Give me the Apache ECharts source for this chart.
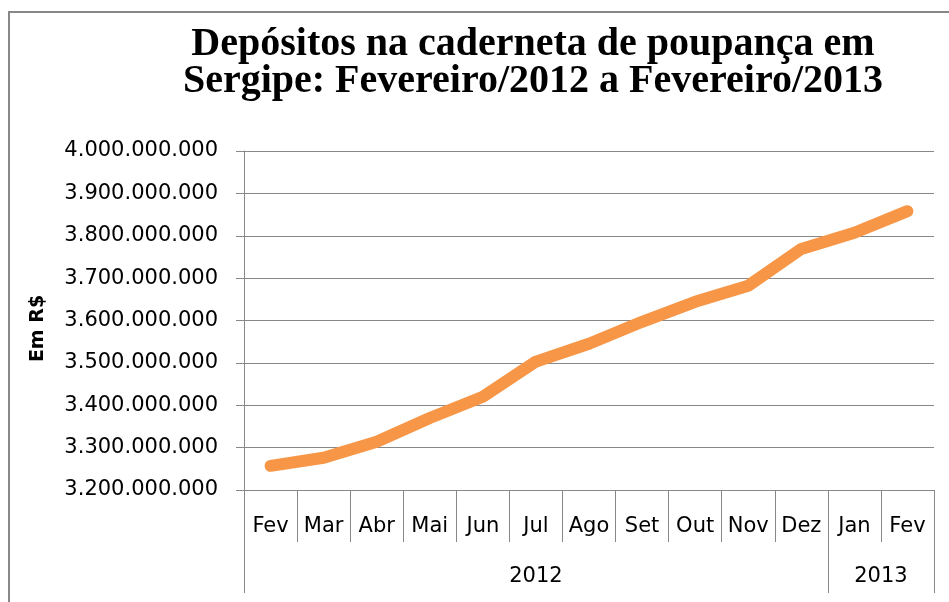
<!DOCTYPE html>
<html lang="pt">
<head>
	<meta charset="UTF-8">
	<title>Depósitos na caderneta de poupança em Sergipe</title>
	<script src="https://cdn.jsdelivr.net/npm/echarts@6/dist/echarts.min.js"></script>
	<style>
		html,body{margin:0;padding:0;background:#fff;}
	</style>
</head>
<body>
	<div id="app" style="width:949px;height:602px"></div>

	<script>
		// dados
		var meses=["Fev","Mar","Abr","Mai","Jun","Jul","Ago","Set","Out","Nov","Dez","Jan","Fev"];
		var depositos=[3257e6,3276e6,3314e6,3370e6,3420e6,3503e6,3545e6,3597e6,3644e6,3682e6,3769e6,3807e6,3858e6];
		var anos=["2012","2013"];
		var mesesPorAno=[11,2];//quantos meses de cada ano
		var yMin=3200000000, yMax=4000000000, yPasso=100000000;

		// limites e centros dos grupos de ano (em unidades de categoria)
		var limites=[0], centros=[];
		mesesPorAno.forEach(function(n){
			var ini=limites[limites.length-1];
			centros.push(ini+n/2);
			limites.push(ini+n);
		});

		function pontos(v){
			return String(v).replace(/\B(?=(\d{3})+(?!\d))/g,".");
		}

		var cinza="#888";
		var fonte="DejaVu Sans";

		var myChart=echarts.init(document.getElementById('app'));
		var option={
			animation:false,
			title:{
				text:"Depósitos na caderneta de poupança em\nSergipe: Fevereiro/2012 a Fevereiro/2013",
				left:528,
				top:21,
				textAlign:"center",
				textStyle:{
					fontFamily:"Liberation Serif",
					fontWeight:"bold",
					fontSize:40,
					lineHeight:37,
					color:"#000"
				}
			},
			graphic:[{//moldura da área do gráfico
				type:"rect",
				shape:{x:9,y:12,width:1000,height:700},
				style:{fill:null,stroke:cinza,lineWidth:2},
				silent:true
			}],
			grid:{left:244,right:15,top:151,bottom:112,containLabel:false},
			xAxis:[{
				type:"category",
				data:meses,
				boundaryGap:true,
				axisLine:{lineStyle:{color:cinza}},
				axisTick:{show:true,interval:0,length:52,lineStyle:{color:cinza}},
				axisLabel:{interval:0,margin:26,fontFamily:fonte,fontSize:21,color:"#000"}
			},{
				// segundo nível: anos
				type:"value",
				min:0,
				max:meses.length,
				position:"bottom",
				axisLine:{show:false},
				splitLine:{show:false},
				axisTick:{show:true,customValues:limites,length:103,lineStyle:{color:cinza}},
				axisLabel:{
					customValues:centros,
					margin:76,
					fontFamily:fonte,fontSize:21,color:"#000",
					formatter:function(v){return anos[centros.indexOf(v)];}
				}
			}],
			yAxis:{
				type:"value",
				min:yMin,
				max:yMax,
				interval:yPasso,
				name:"Em R$",
				nameLocation:"middle",
				nameRotate:90,
				nameGap:196,
				nameTextStyle:{fontFamily:fonte,fontWeight:"bold",fontSize:19,color:"#000",padding:[0,16,0,0]},
				axisLine:{show:true,lineStyle:{color:cinza}},
				axisTick:{show:true,length:8,lineStyle:{color:cinza}},
				splitLine:{lineStyle:{color:cinza,width:1}},
				axisLabel:{margin:26,fontFamily:fonte,fontSize:21,color:"#000",formatter:pontos}
			},
			series:[{
				name:"Depósitos",
				type:"line",
				data:depositos,
				symbol:"none",
				smooth:false,
				lineStyle:{color:"#F79646",width:12,cap:"round",join:"round"}
			}]
		};
		myChart.setOption(option);
	</script>
</body>
</html>
